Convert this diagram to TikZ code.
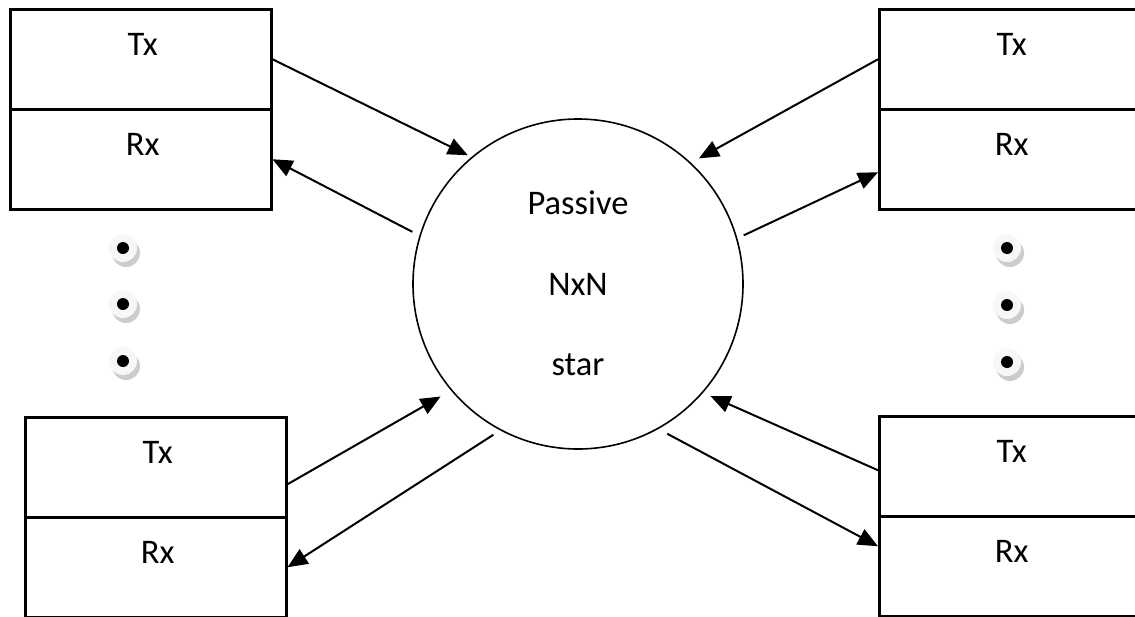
\documentclass[tikz,border=0pt]{standalone}
\usepackage{fontspec}
\setmainfont{Carlito}
\usetikzlibrary{arrows.meta,calc}

\tikzset{
  half/.style={draw, line width=2.5pt, rectangle, minimum width=261pt,
    minimum height=100pt, inner sep=0pt, anchor=north west},
  lbl/.style={font=\fontsize{34.5}{41}\selectfont, inner sep=0pt},
  link/.style={line width=2pt, -{Triangle[length=20pt,width=17pt]}},
  hubstyle/.style={draw, circle, line width=1.6pt, minimum size=330pt, inner sep=0pt}
}

% stacked "more stations" bullet: shadowed disc with a black centre
\newcommand{\moredot}[1]{%
  \fill[gray!40] ($(#1)+(3,5)$) circle (14pt);
  \fill[gray!6] (#1) circle (14pt);
  \fill[black] (#1) circle (6pt);
}

\begin{document}
\begin{tikzpicture}[x=1pt,y=-1pt]
\useasboundingbox (0,0) rectangle (1135,616);

% stations (upper half = transmitter, lower half = receiver)
\node[half] (tltx) at (9,8) {};
\node[half] (tlrx) at (9,108) {};
\node[half] (trtx) at (878,8) {};
\node[half] (trrx) at (878,108) {};
\node[half] (bltx) at (24,416) {};
\node[half] (blrx) at (24,516) {};
\node[half] (brtx) at (878,415) {};
\node[half] (brrx) at (878,515) {};

\foreach \b/\t in {tltx/Tx, tlrx/Rx, trtx/Tx, trrx/Rx, bltx/Tx, blrx/Rx, brtx/Tx, brrx/Rx}
  \node[lbl] (\b-text) at ($(\b.north)+(2,36)$) {\t};

% passive coupler
\node[hubstyle] (hub) at (578,284) {};
\node[lbl] (hub-a) at ($(hub.center)+(0,-81)$) {Passive};
\node[lbl] (hub-b) at (hub.center) {NxN};
\node[lbl] (hub-c) at ($(hub.center)+(0,81)$) {star};

% links between stations and the star
\draw[link, shorten >=4pt] (tltx.east) -- (hub.130.5);
\draw[link, shorten <=8pt] (hub.163.6) -- (tlrx.east);
\draw[link, shorten >=9pt] (trtx.west) -- (hub.47.8);
\draw[link, shorten <=7pt] (hub.16.5) -- ($(trrx.west)+(0,13)$);
\draw[link, shorten >=12pt] ($(bltx.east)+(0,17)$) -- (hub.220);
\draw[link, shorten <=8pt] (hub.242.4) -- (blrx.east);
\draw[link, shorten >=8pt] ($(brtx.west)+(0,4)$) -- (hub.319.2);
\draw[link, shorten <=10pt] (hub.299) -- ($(brrx.west)+(0,-20)$);

% ellipsis bullets
\foreach \y in {248,304,361} {\moredot{123,\y}}
\foreach \y in {248,305,362} {\moredot{1007,\y}}
\end{tikzpicture}
\end{document}
